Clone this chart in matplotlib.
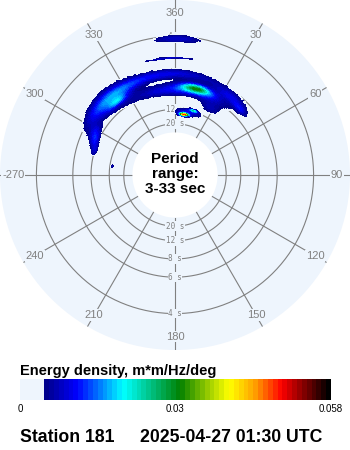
import numpy as np
import matplotlib
matplotlib.use("Agg")
import matplotlib.pyplot as plt
from matplotlib.colors import LinearSegmentedColormap, Normalize
from matplotlib.cm import ScalarMappable

# wave systems: direction (deg), spread (deg),
# frequency (Hz), spread (Hz), peak energy density (m*m/Hz/deg)
wave_dir = [352, 5, 318, 322, 14, 36, 298, 293, 287, 1, 357, 8.5, 16, 12,
            278, 28, 45]
wave_dir_spread = [28, 24, 13, 5, 7, 9, 4, 3.5, 3.5, 9, 11, 3, 2.5, 10, 2.5,
                   7, 4]
wave_freq = [0.165, 0.129, 0.163, 0.148, 0.137, 0.152, 0.14, 0.133, 0.126,
             0.245, 0.201, 0.073, 0.086, 0.08, 0.078, 0.105, 0.145]
wave_freq_spread = [0.009, 0.011, 0.019, 0.006, 0.007, 0.009, 0.01, 0.008,
                    0.007, 0.008, 0.0022, 0.003, 0.0025, 0.007, 0.004, 0.01,
                    0.006]
wave_peak = [0.0095, 0.011, 0.012, 0.009, 0.022, 0.008, 0.0075, 0.007, 0.007,
             0.008, 0.0085, 0.045, 0.018, 0.009, 0.0065, 0.006, 0.006]

ring_periods = [4, 6, 8, 12, 20]
angle_ticks = [0, 30, 60, 90, 120, 150, 180, 210, 240, 270, 300, 330]
angle_labels = ['360', '30', '60', '90', '120', '150', '180', '210', '240',
                '-270', '300', '330']
cbar_ticks = [0, 0.029, 0.058]
cbar_labels = ['0', '0.03', '0.058']

station = "Station 181"
stamp = "2025-04-27 01:30 UTC"

e_max = 0.058
e_min = 0.0039
f_lo, f_hi = 1 / 33, 1 / 3

bg = '#eef5fd'
grid_col = '#808080'

plt.rcParams['font.family'] = ['Liberation Sans', 'DejaVu Sans']

cmap = LinearSegmentedColormap.from_list('wave', [
    (0.0, bg), (0.067, bg), (0.0675, '#000080'), (0.18, '#0000ff'),
    (0.33, '#00ffff'), (0.515, '#008000'), (0.6, '#90c800'),
    (0.675, '#ffff00'), (0.76, '#ffa000'), (0.846, '#ff0000'),
    (0.92, '#800000'), (1.0, '#000000')], N=64)
norm = Normalize(0, e_max)

# energy field on direction/frequency grid
th_edges = np.deg2rad(np.arange(0, 361, 1.0))
f_edges = np.linspace(f_lo, f_hi, 221)
th_c = np.rad2deg(0.5 * (th_edges[1:] + th_edges[:-1]))
f_c = 0.5 * (f_edges[1:] + f_edges[:-1])
TH, FF = np.meshgrid(th_c, f_c)
Z = np.zeros_like(TH)
for d, sd, fc, sf, pk in zip(wave_dir, wave_dir_spread, wave_freq,
                             wave_freq_spread, wave_peak):
    dd = (TH - d + 180) % 360 - 180
    Z += pk * np.exp(-0.5 * ((dd / sd) ** 2 + ((FF - fc) / sf) ** 2))
Z = np.ma.masked_less(Z, e_min)

fig = plt.figure(figsize=(3.5, 4.5), dpi=100)
ax = fig.add_axes([0, 100 / 450, 1, 350 / 450], projection='polar')
ax.set_theta_zero_location('N')
ax.set_theta_direction(-1)
ax.set_rlim(f_lo, f_hi)
ax.set_rorigin(-0.0672)
ax.set_facecolor(bg)
ax.grid(False)
ax.set_xticks([])
ax.set_yticks([])
for name in ('polar', 'inner', 'start', 'end'):
    ax.spines[name].set_visible(False)
    ax.spines[name].set_linewidth(0)

# grid
tt = np.linspace(0, 2 * np.pi, 400)
for p in ring_periods:
    ax.plot(tt, np.full_like(tt, 1 / p), color=grid_col, lw=0.8, zorder=1)
for a in angle_ticks:
    ax.plot([np.deg2rad(a)] * 2, [f_lo, f_hi], color=grid_col, lw=0.8, zorder=1)
for a, lab in zip(angle_ticks, angle_labels):
    ax.text(np.deg2rad(a), 0.303, lab, ha='center', va='center', fontsize=8,
            color=grid_col, zorder=2,
            bbox=dict(fc=bg, ec='none', pad=0.5))
for p in ring_periods:
    for a in (0, 180):
        ax.text(np.deg2rad(a), 1 / p, f"{p} s", ha='center', va='center',
                fontsize=5.5, color=grid_col, family='DejaVu Sans Mono',
                zorder=2, bbox=dict(fc=bg, ec='none', pad=0.3))

ax.pcolormesh(th_edges, f_edges, Z, cmap=cmap, norm=norm, shading='flat',
              zorder=3)

fig.text(0.5, 1 - 174 / 450, "Period\nrange:\n3-33 sec", ha='center',
         va='center', fontsize=11, fontweight='bold', linespacing=1.05)

# colour bar
fig.text(20 / 350, 1 - 371 / 450, "Energy density, m*m/Hz/deg",
         ha='left', va='center', fontsize=10.5, fontweight='bold')
cax = fig.add_axes([20 / 350, 50 / 450, 311 / 350, 21 / 450])
cb = fig.colorbar(ScalarMappable(norm=norm, cmap=cmap), cax=cax,
                  orientation='horizontal')
cb.outline.set_visible(False)
cb.set_ticks(cbar_ticks)
cb.set_ticklabels(cbar_labels)
cax.tick_params(length=0, labelsize=7, pad=3)

fig.text(20 / 350, 1 - 438 / 450, station, ha='left', va='center',
         fontsize=12.7, fontweight='bold')
fig.text(140 / 350, 1 - 438 / 450, stamp, ha='left', va='center',
         fontsize=12.7, fontweight='bold')

fig.savefig('out.png', dpi=100, facecolor='white')
